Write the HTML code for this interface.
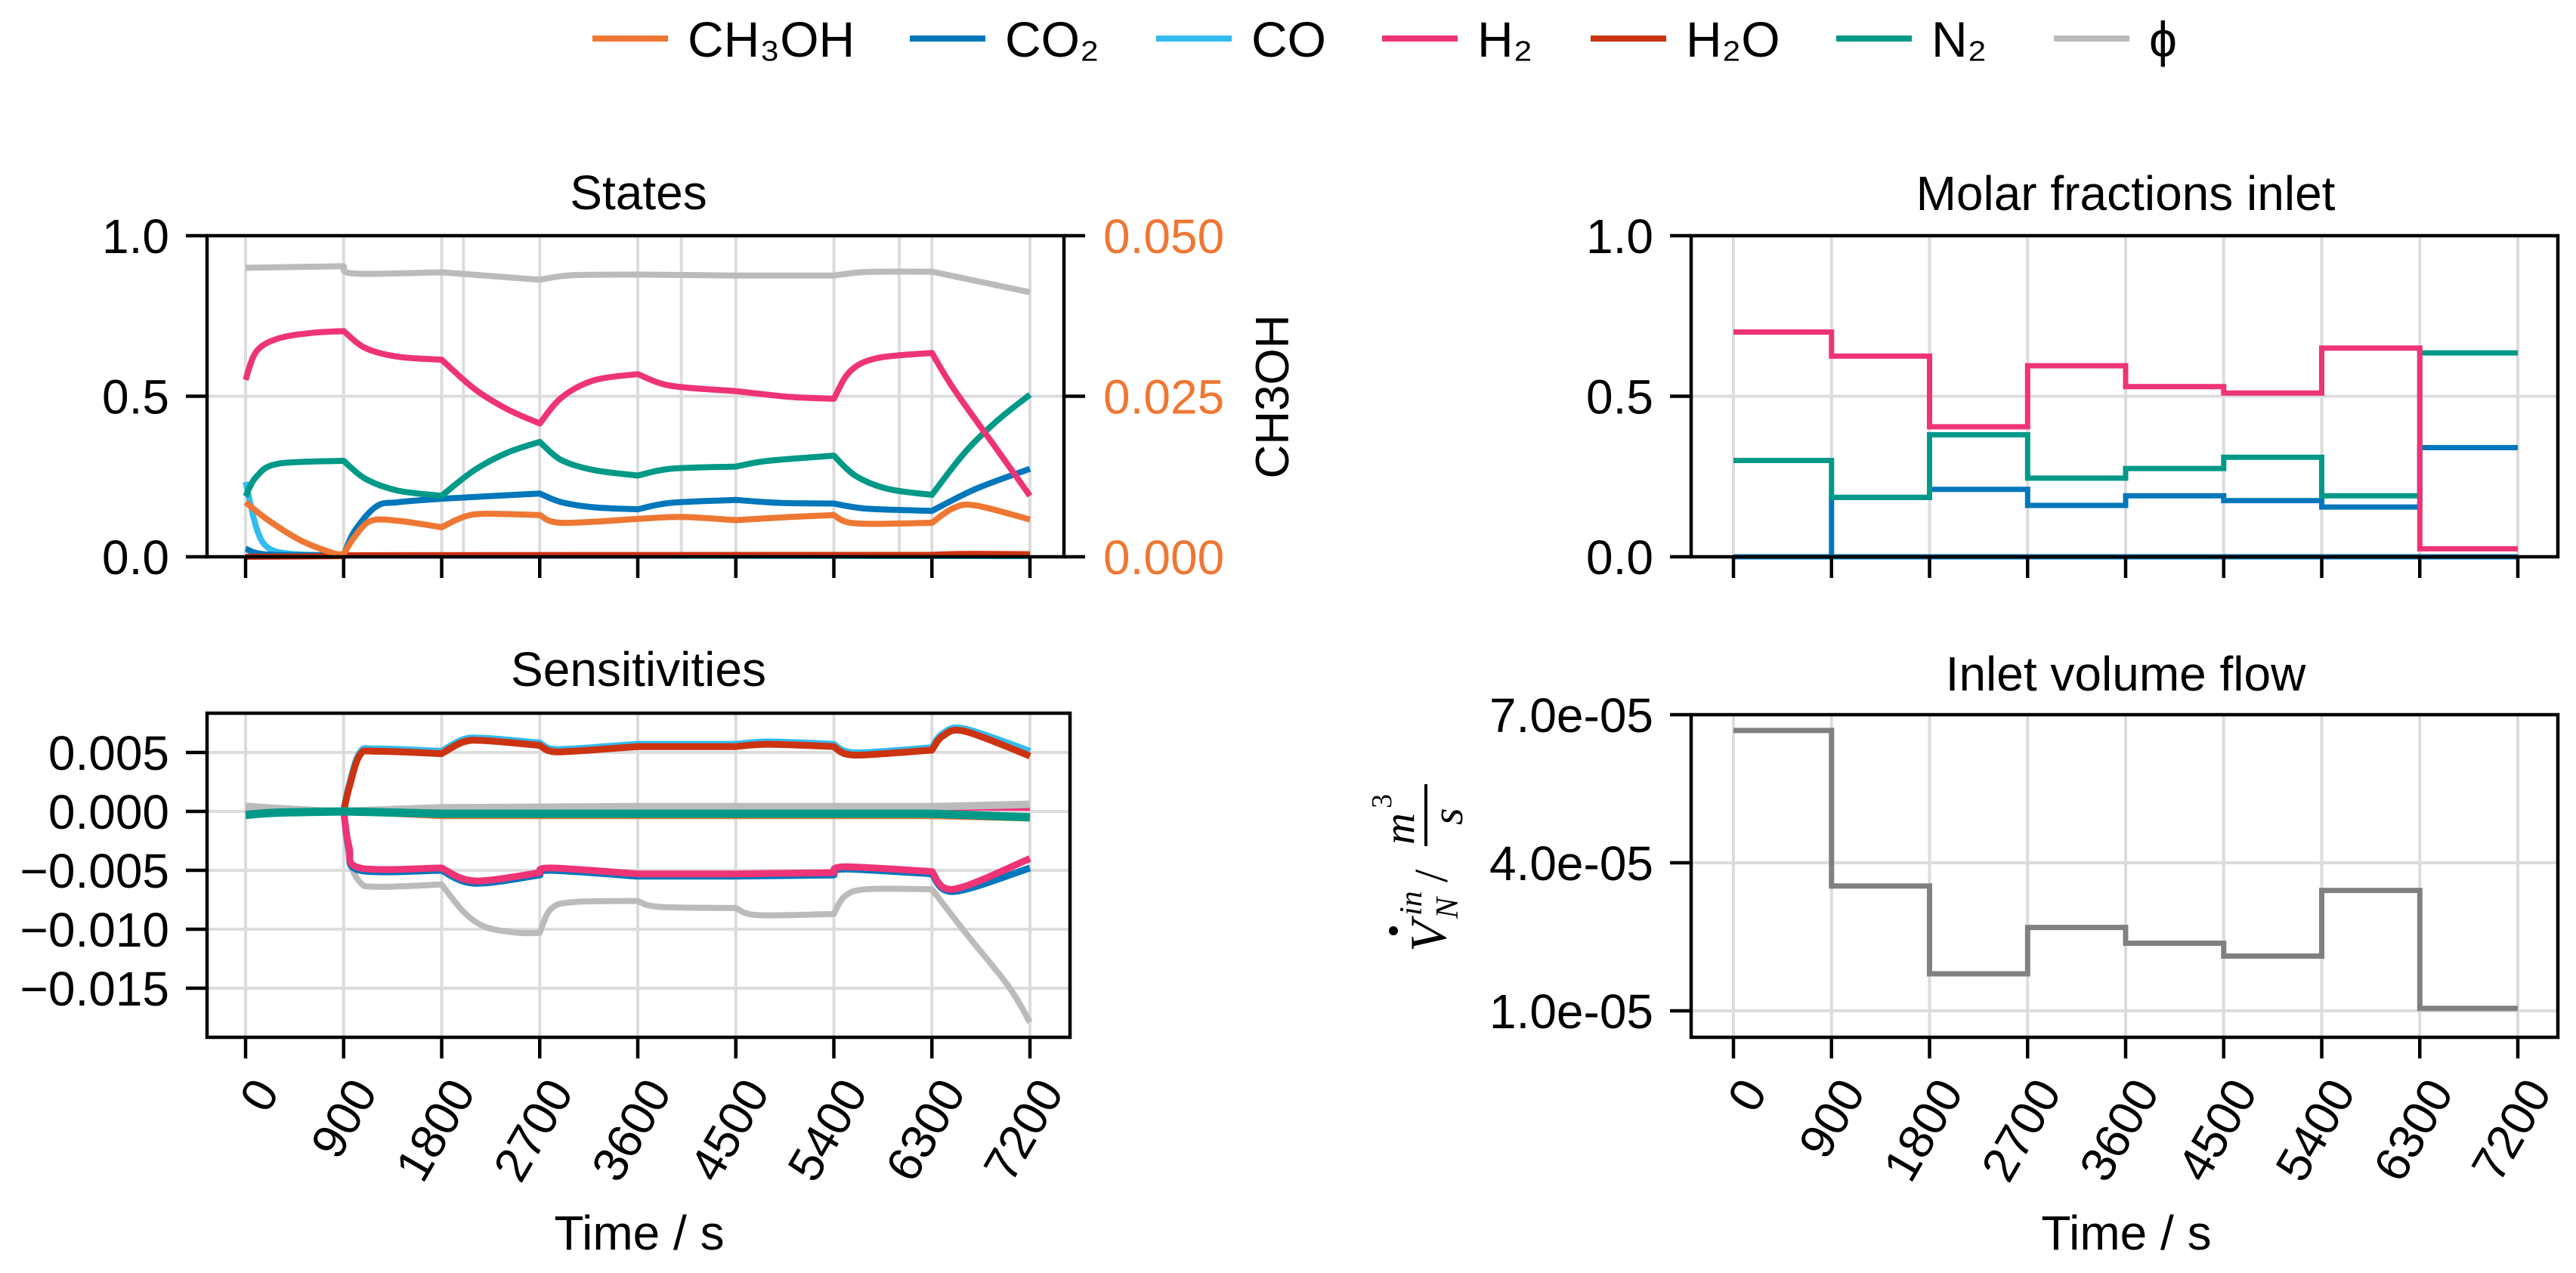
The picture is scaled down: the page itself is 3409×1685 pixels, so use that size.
<!DOCTYPE html>
<html><head><meta charset="utf-8"><style>
html,body{margin:0;padding:0;background:#fff;}
svg{display:block;font-family:"Liberation Sans",sans-serif;}
</style></head><body>
<svg id="fig" width="3409" height="1685" viewBox="0 0 3409 1685" xmlns="http://www.w3.org/2000/svg">
<g id="legend"></g>
<g id="states"></g>
<g id="sens"></g>
<g id="molar"></g>
<g id="flow"></g>
</svg>
<script>
// ---------- data ----------
const xTicks = [0,900,1800,2700,3600,4500,5400,6300,7200];
const legendNames = ["CH\u2083OH","CO\u2082","CO","H\u2082","H\u2082O","N\u2082","\u03d5"];
const legendColors = ["#EE7733","#0077BB","#33BBEE","#EE3377","#CC3311","#009988","#BBBBBB"];

// States (time, value)
const stPhiT = [0,900,1000,1800,2700,3000,3600,4500,5400,5700,6300,7200];
const stPhiV = [0.90,0.905,0.882,0.886,0.863,0.877,0.879,0.876,0.876,0.887,0.888,0.824];
const stH2T = [0,100,300,600,900,1100,1400,1800,2100,2400,2700,2900,3200,3600,3900,4500,5000,5400,5550,5800,6300,6500,6900,7200];
const stH2V = [0.551,0.64,0.68,0.697,0.703,0.65,0.623,0.614,0.523,0.46,0.415,0.496,0.55,0.569,0.533,0.516,0.498,0.492,0.578,0.619,0.635,0.523,0.333,0.19];
const stN2T = [0,100,300,900,1100,1400,1800,2100,2400,2700,2900,3200,3600,3900,4500,4800,5400,5600,5900,6300,6600,6900,7200];
const stN2V = [0.188,0.25,0.29,0.299,0.243,0.206,0.19,0.27,0.324,0.358,0.301,0.27,0.253,0.274,0.281,0.299,0.315,0.252,0.211,0.193,0.324,0.424,0.505];
const stCO2T = [0,200,900,1000,1200,1400,1800,2700,2900,3200,3600,3900,4500,4900,5400,5700,6300,6700,7200];
const stCO2V = [0.025,0.007,0.005,0.08,0.157,0.17,0.181,0.197,0.17,0.154,0.148,0.168,0.177,0.168,0.166,0.15,0.143,0.211,0.274];
const stCOT = [0,100,200,400,900,7200];
const stCOV = [0.233,0.09,0.03,0.01,0.004,0.002];
const stH2OT = [0,900,1200,6300,6600,7200];
const stH2OV = [0.0,0.002,0.005,0.006,0.009,0.008];
const stMeT = [0,200,500,800,900,1000,1150,1400,1800,2000,2200,2700,2900,3600,4000,4500,5000,5400,5600,6300,6500,6700,7200];
const stMeV = [0.0085,0.0058,0.0026,0.0006,0.0004,0.0031,0.0056,0.0056,0.0046,0.0062,0.0067,0.0065,0.0053,0.0059,0.0062,0.0057,0.0062,0.0065,0.0052,0.0053,0.0076,0.008,0.0058];

// Sensitivities
const sRedT = [0,900,950,1050,1200,1800,2000,2200,2700,2800,3000,3600,4500,4800,5400,5500,5700,6300,6400,6600,7200];
const sRedV = [0,0,0.002,0.0048,0.0051,0.0049,0.0059,0.006,0.0056,0.0051,0.0051,0.0055,0.0055,0.0057,0.0055,0.0049,0.0048,0.0052,0.0064,0.0068,0.0047];
const sCOV  = [0,0,0.0022,0.005,0.0053,0.0051,0.0061,0.0062,0.0058,0.0053,0.0053,0.0057,0.0057,0.0059,0.0057,0.0051,0.005,0.0054,0.0066,0.007,0.0051];
const sPinkT = [0,900,950,1050,1800,2100,2700,2800,3600,4500,5400,5500,6300,6500,7200];
const sPinkV = [0,0,-0.003,-0.0048,-0.0048,-0.0059,-0.0052,-0.0048,-0.0053,-0.0053,-0.0052,-0.0047,-0.0051,-0.0066,-0.004];
const sBlueV = [0,0,-0.0032,-0.005,-0.005,-0.0061,-0.0054,-0.005,-0.0055,-0.0055,-0.0054,-0.0049,-0.0053,-0.0068,-0.0048];
const sGrayT = [0,300,900,950,1050,1200,1800,2000,2200,2500,2700,2800,3000,3600,3800,4500,4700,5400,5500,5700,6300,6600,7000,7200];
const sGrayV = [0.0005,0.0003,0,-0.004,-0.006,-0.0064,-0.0062,-0.0085,-0.0098,-0.0103,-0.0103,-0.0083,-0.0077,-0.0076,-0.0081,-0.0082,-0.0088,-0.0087,-0.0072,-0.0066,-0.0066,-0.0102,-0.0148,-0.0179];
const sZeroT = [0,300,900,1800,3600,5400,6300,7200];
const sZeroGray = [0.0004,0.0001,0,0.0003,0.0004,0.0004,0.0004,0.0006];
const sZeroPink = [0.0002,0.0001,0,0.0003,0.0003,0.0003,0.0003,0.0003];
const sZeroTeal = [-0.0003,-0.0001,0,-0.0002,-0.0002,-0.0002,-0.0002,-0.0005];
const sZeroOrange = [-0.0002,-0.0001,0,-0.0004,-0.0004,-0.0004,-0.0004,-0.0006];

// Molar fractions inlet (per 900 s interval)
const inH2 = [0.70,0.625,0.405,0.595,0.53,0.51,0.65,0.025];
const inN2 = [0.30,0.185,0.38,0.245,0.275,0.31,0.19,0.635];
const inCO2 = [0,0.185,0.21,0.16,0.19,0.175,0.155,0.34];
const inZero = [0,0,0,0,0,0,0,0];

// Inlet volume flow
const flowV = [6.68e-5,3.53e-5,1.75e-5,2.69e-5,2.37e-5,2.11e-5,3.44e-5,1.05e-5];
const flowTicks = [1e-5,4e-5,7e-5];
const flowTickLabels = ["1.0e-05","4.0e-05","7.0e-05"];

// ---------- helpers ----------
const NS="http://www.w3.org/2000/svg";
function mk(parent, tag, attrs, text){
  const e=document.createElementNS(NS,tag);
  for(const k in attrs) e.setAttribute(k,attrs[k]);
  if(text!==undefined) e.textContent=text;
  parent.appendChild(e); return e;
}
function linScale(d0,d1,r0,r1){return v=>r0+(v-d0)*(r1-r0)/(d1-d0);}
function smoothSeg(P){
  // Catmull-Rom to cubic bezier
  let d="";
  for(let i=0;i<P.length-1;i++){
    const p0=P[Math.max(0,i-1)],p1=P[i],p2=P[i+1],p3=P[Math.min(P.length-1,i+2)];
    const c1x=p1[0]+(p2[0]-p0[0])/6, c1y=p1[1]+(p2[1]-p0[1])/6;
    const c2x=p2[0]-(p3[0]-p1[0])/6, c2y=p2[1]-(p3[1]-p1[1])/6;
    d+="C"+c1x.toFixed(1)+","+c1y.toFixed(1)+" "+c2x.toFixed(1)+","+c2y.toFixed(1)+" "+p2[0].toFixed(1)+","+p2[1].toFixed(1);
  }
  return d;
}
function poly(g,xs,ys,T,V,color,w,name){
  const pts=T.map((t,i)=>[xs(t),ys(V[i]),t]);
  let d="M"+pts[0][0].toFixed(1)+","+pts[0][1].toFixed(1);
  let seg=[pts[0]];
  for(let i=1;i<pts.length;i++){
    seg.push(pts[i]);
    if(pts[i][2]%900===0 || i===pts.length-1){ d+=smoothSeg(seg); seg=[pts[i]]; }
  }
  const p=mk(g,"path",{d:d,fill:"none",stroke:color,"stroke-width":w,"stroke-linejoin":"round","stroke-linecap":"butt"});
  
  
}
function steps(g,xs,ys,V,color,w,name){
  let d="";
  for(let i=0;i<V.length;i++){
    const x0=xs(i*900), x1=xs((i+1)*900), y=ys(V[i]);
    d+=(i?"L":"M")+x0.toFixed(1)+","+y.toFixed(1)+"L"+x1.toFixed(1)+","+y.toFixed(1);
  }
  const p=mk(g,"path",{d:d,fill:"none",stroke:color,"stroke-width":w,"stroke-linejoin":"miter"});
  
  
}
function frame(g,L,R,T,B){
  const r=mk(g,"rect",{x:L,y:T,width:R-L,height:B-T,fill:"none",stroke:"#000","stroke-width":4.5});
  
  
}
function vgrid(g,xs,T,B,vals){
  vals.forEach(v=>{
    const l=mk(g,"line",{x1:xs(v),x2:xs(v),y1:T,y2:B,stroke:"#dcdcdc","stroke-width":4});
    
    
  });
}
function hgrid(g,ys,L,R,vals){
  vals.forEach(v=>{
    const l=mk(g,"line",{x1:L,x2:R,y1:ys(v),y2:ys(v),stroke:"#dcdcdc","stroke-width":4});
    
    
  });
}
function xticks(g,xs,B,labels){
  xTicks.forEach(t=>{
    const l=mk(g,"line",{x1:xs(t),x2:xs(t),y1:B,y2:B+28,stroke:"#000","stroke-width":4.5});
    
    
    if(labels){
      const x=xs(t)+46, y=B+72;
      const tx=mk(g,"text",{x:x,y:y,"font-size":64,"text-anchor":"end",transform:`rotate(-60 ${x} ${y})`},String(t));
      
      
    }
  });
}
function yticks(g,ys,L,vals,labels,color,right){
  vals.forEach((v,i)=>{
    const y=ys(v);
    const l=mk(g,"line",{x1:right?L:L-28,x2:right?L+28:L,y1:y,y2:y,stroke:"#000","stroke-width":4.5});
    
    
    const tx=mk(g,"text",{x:right?L+52:L-50,y:y+23,"font-size":64,"text-anchor":right?"start":"end",fill:color||"#000"},labels[i]);
    
    
  });
}
function title(g,x,y,s){
  const t=mk(g,"text",{x:x,y:y,"font-size":64,"text-anchor":"middle"},s);
  
  
}
function xlabel(g,x,y){
  const t=mk(g,"text",{x:x,y:y,"font-size":64,"text-anchor":"middle"},"Time / s");
  
  
}

// ---------- legend ----------
(function(){
  const g=document.getElementById("legend");
  const lx=[784,1204,1530,1829,2105,2430,2718];
  legendNames.forEach((n,i)=>{
    const ge=mk(g,"g",{});
    
    
    mk(ge,"line",{x1:lx[i],x2:lx[i]+100,y1:51,y2:51,stroke:legendColors[i],"stroke-width":8});
    mk(ge,"text",{x:lx[i]+126,y:75,"font-size":66},n);
  });
})();

// ---------- States ----------
(function(){
  const g=document.getElementById("states");
  const L=274,R=1408,T=312,B=737;
  const xs=linScale(0,7200,325,1363), ys=linScale(0,1,B,T), ys2=linScale(0,0.05,B,T);
  vgrid(g,xs,T,B,xTicks.concat([2000,4000,6000]));
  hgrid(g,ys,L,R,[0.5]);
  poly(g,xs,ys,stPhiT,stPhiV,"#BBBBBB",8,"line-phi");
  poly(g,xs,ys,stCOT,stCOV,"#33BBEE",8,"line-co");
  poly(g,xs,ys,stCO2T,stCO2V,"#0077BB",8,"line-co2");
  poly(g,xs,ys,stN2T,stN2V,"#009988",8,"line-n2");
  poly(g,xs,ys,stH2T,stH2V,"#EE3377",8,"line-h2");
  poly(g,xs,ys,stH2OT,stH2OV,"#CC3311",8,"line-h2o");
  poly(g,xs,ys2,stMeT,stMeV,"#EE7733",8,"line-ch3oh");
  frame(g,L,R,T,B);
  xticks(g,xs,B,false);
  yticks(g,ys,L,[0,0.5,1],["0.0","0.5","1.0"]);
  yticks(g,ys2,R,[0,0.025,0.05],["0.000","0.025","0.050"],"#EE7733",true);
  const t=mk(g,"text",{x:1705,y:525,"font-size":62,"text-anchor":"middle",transform:"rotate(-90 1705 525)"},"CH3OH");
  
  
  title(g,845,277,"States");
})();

// ---------- Sensitivities ----------
(function(){
  const g=document.getElementById("sens");
  const L=274,R=1416,T=944,B=1373;
  const xs=linScale(0,7200,325,1363), ys=linScale(0,0.005,1074,996);
  const yv=[0.005,0,-0.005,-0.01,-0.015];
  vgrid(g,xs,T,B,xTicks);
  hgrid(g,ys,L,R,yv);
  poly(g,xs,ys,sGrayT,sGrayV,"#BBBBBB",8,"sens-phi-lower");
  poly(g,xs,ys,sPinkT,sBlueV,"#0077BB",9,"sens-co2-lower");
  poly(g,xs,ys,sPinkT,sPinkV,"#EE3377",9,"sens-h2-lower");
  poly(g,xs,ys,sRedT,sCOV,"#33BBEE",9,"sens-co-upper");
  poly(g,xs,ys,sRedT,sRedV,"#CC3311",9,"sens-h2o-upper");
  poly(g,xs,ys,sZeroT,sZeroOrange,"#EE7733",8,"sens-ch3oh-zero");
  poly(g,xs,ys,sZeroT,sZeroPink,"#EE3377",8,"sens-h2-zero");
  poly(g,xs,ys,sZeroT,sZeroGray,"#BBBBBB",10,"sens-phi-zero");
  poly(g,xs,ys,sZeroT,sZeroTeal,"#009988",11,"sens-n2-zero");
  frame(g,L,R,T,B);
  xticks(g,xs,B,true);
  yticks(g,ys,L,yv,["0.005","0.000","\u22120.005","\u22120.010","\u22120.015"]);
  title(g,845,908,"Sensitivities");
  xlabel(g,846,1654);
})();

// ---------- Molar fractions inlet ----------
(function(){
  const g=document.getElementById("molar");
  const L=2238,R=3385,T=312,B=737;
  const xs=linScale(0,7200,2294,3332), ys=linScale(0,1,B,T);
  vgrid(g,xs,T,B,xTicks);
  hgrid(g,ys,L,R,[0.5]);
  steps(g,xs,ys,inZero,"#0077BB",7,"inlet-zero");
  steps(g,xs,ys,inCO2,"#0077BB",7,"inlet-co2");
  steps(g,xs,ys,inN2,"#009988",7,"inlet-n2");
  steps(g,xs,ys,inH2,"#EE3377",7,"inlet-h2");
  frame(g,L,R,T,B);
  xticks(g,xs,B,false);
  yticks(g,ys,L,[0,0.5,1],["0.0","0.5","1.0"]);
  title(g,2813,278,"Molar fractions inlet");
})();

// ---------- Inlet volume flow ----------
(function(){
  const g=document.getElementById("flow");
  const L=2238,R=3385,T=946,B=1373;
  const xs=linScale(0,7200,2294,3332), ys=linScale(1e-5,4e-5,1338,1142);
  vgrid(g,xs,T,B,xTicks);
  hgrid(g,ys,L,R,[1e-5,4e-5]);
  steps(g,xs,ys,flowV,"#808080",7,"inlet-flow-line");
  frame(g,L,R,T,B);
  xticks(g,xs,B,true);
  yticks(g,ys,L,flowTicks,flowTickLabels);
  title(g,2813,914,"Inlet volume flow");
  xlabel(g,2814,1654);
  const lg=mk(g,"g",{transform:"translate(1893 1160) rotate(-90)"});
  
  
  const st={"font-family":"'Liberation Serif',serif","font-style":"italic"};
  mk(lg,"text",Object.assign({x:-100,y:20,"font-size":68},st),"V");
  mk(lg,"circle",{cx:-72,cy:-49,r:6,fill:"#000"});
  mk(lg,"text",Object.assign({x:-52,y:-12,"font-size":42},st),"in");
  mk(lg,"text",Object.assign({x:-56,y:36,"font-size":42},st),"N");
  mk(lg,"text",{x:-8,y:22,"font-size":62,"font-family":"'Liberation Serif',serif"},"/");
  mk(lg,"text",Object.assign({x:42,y:-22,"font-size":58},st),"m");
  mk(lg,"text",{x:90,y:-52,"font-size":38,"font-family":"'Liberation Serif',serif"},"3");
  mk(lg,"line",{x1:40,x2:122,y1:-6,y2:-6,stroke:"#000","stroke-width":4});
  mk(lg,"text",Object.assign({x:68,y:42,"font-size":58},st),"s");
})();
</script>
</body></html>
